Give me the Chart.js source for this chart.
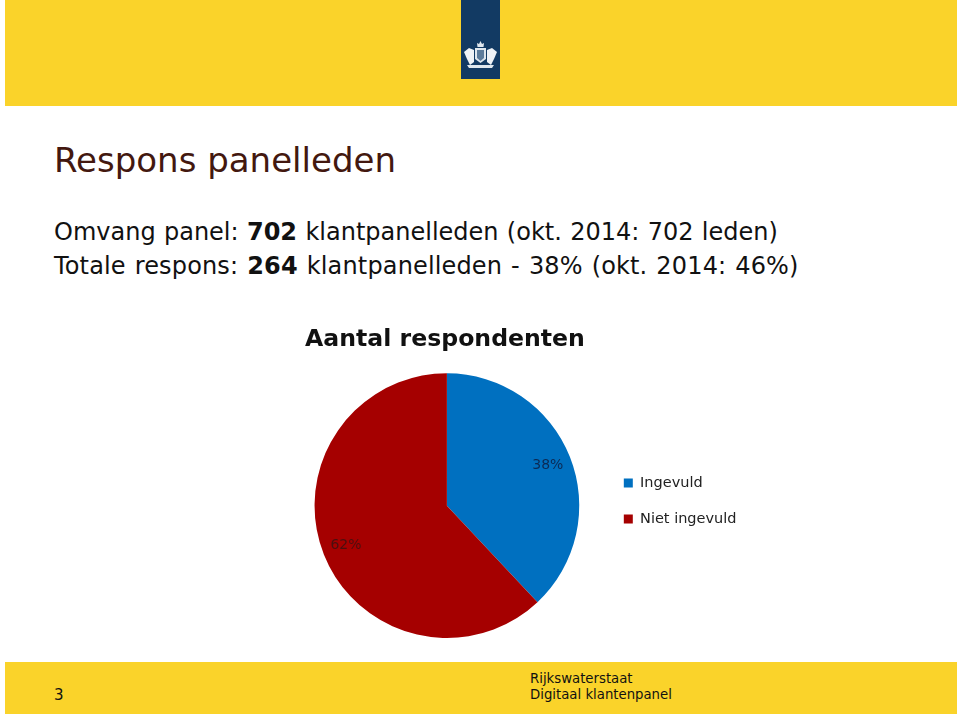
<!DOCTYPE html>
<html>
<head>
<meta charset="utf-8">
<script src="https://cdn.jsdelivr.net/npm/chart.js@4"></script>
<style>
  html, body { margin: 0; padding: 0; background: #fff; }
  body { width: 960px; height: 716px; position: relative; overflow: hidden; font-family: "DejaVu Sans", sans-serif; }
  .band { position: absolute; left: 5px; width: 952px; background: #fad32a; }
  .txt { position: absolute; white-space: nowrap; color: #111; }
  .foot { font-size: 14.5px; transform: scaleX(0.915); transform-origin: left; }
  #chart-box { position: absolute; left: 273px; top: 320px; width: 492px; height: 330px; }
</style>
</head>
<body>
<div class="band" style="top:0;height:106px"></div>
<div class="band" style="top:662px;height:52px"></div>
<div style="position:absolute;left:461px;top:0;width:39px;height:79px;background:#123a63"></div>
<svg style="position:absolute;left:461px;top:38px" width="39" height="32" viewBox="0 0 39 32">
  <path d="M16.5 9 L16 5 L18 6 L19.5 3 L21 6 L23 5 L22.5 9 Z" fill="#dfe7ee"/>
  <path d="M14 10 H25 V21 L19.5 25 L14 21 Z" fill="#dfe7ee"/>
  <path d="M16 12 H23 V20 L19.5 23 L16 20 Z" fill="#5d7c9b"/>
  <path d="M3 14 L8 10 L13 12 L13 24 L9 27 L6 21 Z" fill="#eef2f6"/>
  <path d="M36 14 L31 10 L26 12 L26 24 L30 27 L33 21 Z" fill="#eef2f6"/>
  <path d="M6 27 H33 L31 30 H8 Z" fill="#dfe7ee"/>
</svg>
<div class="txt" style="left:54px;top:140px;font-size:34px;color:#43180f">Respons panelleden</div>
<div class="txt" style="left:54px;top:218px;font-size:24px;word-spacing:0.7px">Omvang panel: <b>702</b> klantpanelleden (okt. 2014: 702 leden)</div>
<div class="txt" style="left:54px;top:252px;font-size:24px;word-spacing:1.2px;letter-spacing:0.15px">Totale respons: <b>264</b> klantpanelleden - 38% (okt. 2014: 46%)</div>
<div class="txt" style="left:54px;top:686px;font-size:15px">3</div>
<div class="txt foot" style="left:530px;top:670px">Rijkswaterstaat</div>
<div class="txt foot" style="left:530px;top:686px">Digitaal klantenpanel</div>
<div id="chart-box"><canvas id="myChart"></canvas></div>
<script>
const categories = ["Ingevuld", "Niet ingevuld"];
const percentages = [38, 62];
const sliceColors = ["#0070c0", "#a50000"];
const labelColors = ["#0b2a55", "#4a0f0f"];
const chartTitle = "Aantal respondenten";

// writes the percentage inside each slice, near the rim
const sliceLabels = {
  id: "sliceLabels",
  afterDatasetsDraw(chart) {
    const ctx = chart.ctx;
    const arcs = chart.getDatasetMeta(0).data;
    ctx.save();
    ctx.font = '14px "DejaVu Sans"';
    ctx.textAlign = "center";
    ctx.textBaseline = "middle";
    arcs.forEach((arc, i) => {
      const mid = (arc.startAngle + arc.endAngle) / 2;
      const r = arc.outerRadius * 0.82;
      ctx.fillStyle = labelColors[i];
      ctx.fillText(percentages[i] + "%", arc.x + Math.cos(mid) * r, arc.y + Math.sin(mid) * r);
    });
    ctx.restore();
  }
};

// title sits over the pie and the legend lower than chart.js would put them
const nudgeBoxes = {
  id: "nudgeBoxes",
  afterLayout(chart) {
    chart.titleBlock.left -= 74;
    chart.titleBlock.right -= 74;
    chart.legend.left -= 18.5;
    chart.legend.right -= 18.5;
    chart.legend.top += 22;
    chart.legend.bottom += 22;
  }
};

new Chart(document.getElementById("myChart"), {
  type: "pie",
  data: {
    labels: categories,
    datasets: [{ data: percentages, backgroundColor: sliceColors, borderWidth: 0 }]
  },
  options: {
    responsive: true,
    maintainAspectRatio: false,
    animation: false,
    layout: { padding: { bottom: 12 } },
    plugins: {
      title: {
        display: true,
        text: chartTitle,
        color: "#111",
        font: { family: "DejaVu Sans", size: 23.6, weight: "bold" },
        padding: { top: 6, bottom: 19 }
      },
      legend: {
        position: "right",
        labels: {
          color: "#222",
          font: { family: "DejaVu Sans", size: 14.5 },
          boxWidth: 9,
          boxHeight: 9,
          padding: 21.5
        }
      },
      tooltip: { enabled: false }
    }
  },
  plugins: [sliceLabels, nudgeBoxes]
});
</script>
</body>
</html>
